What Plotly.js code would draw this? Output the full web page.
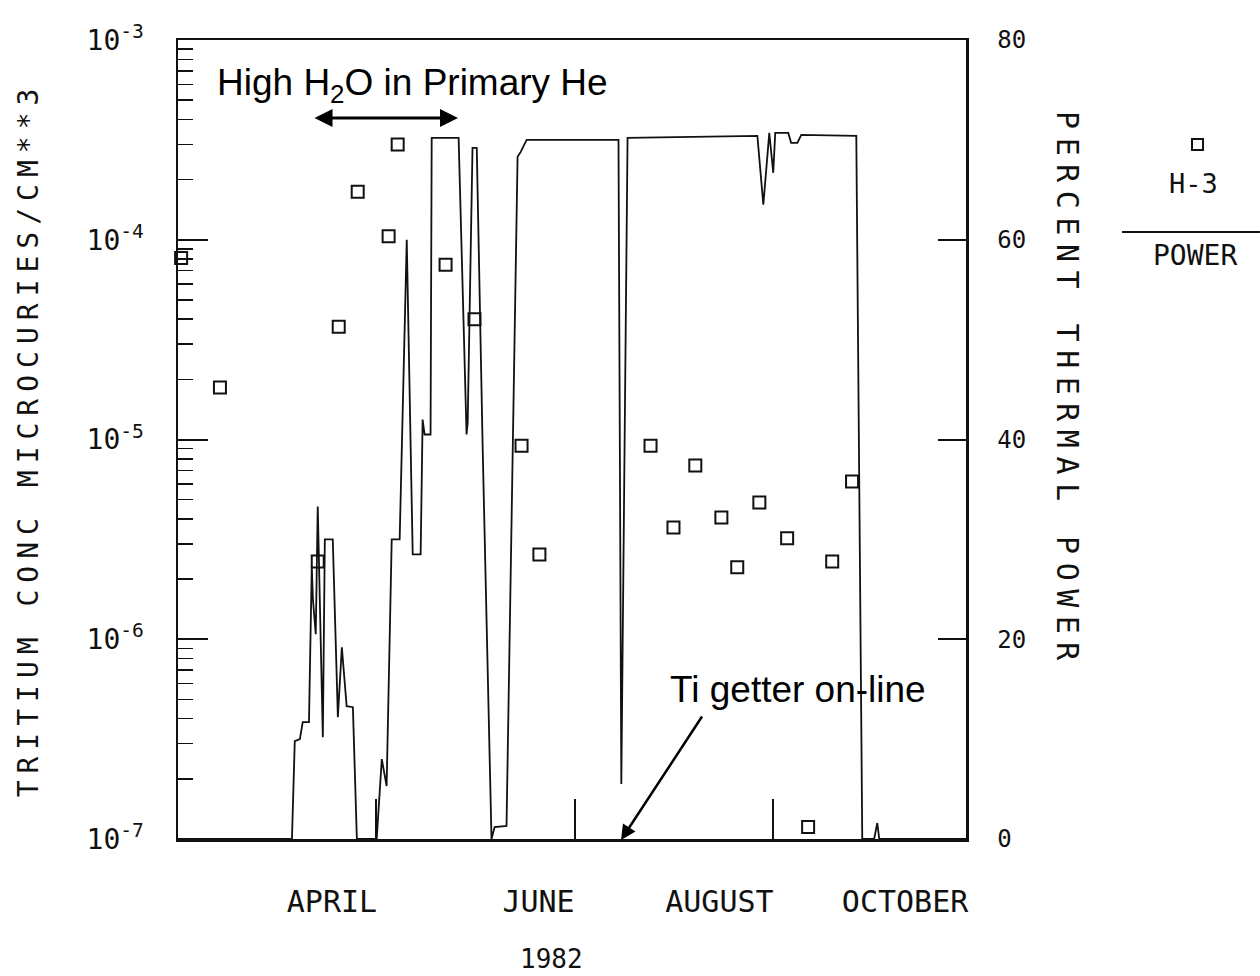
<!DOCTYPE html>
<html>
<head>
<meta charset="utf-8">
<script src="https://cdn.plot.ly/plotly-3.0.1.min.js"></script>
<style>
html,body{margin:0;padding:0;background:#fff;}
#chart{width:1260px;height:976px;}
.ytitle{letter-spacing:7px;}
text[data-unformatted^="PERCENT"]{letter-spacing:8.5px;}
</style>
</head>
<body>
<div id="chart"></div>
<script>
// Power history (day index from left edge of plot, percent thermal power)
const powerDays = [0, 40.2, 41.2, 43.0, 44.0, 46.2, 47.2, 47.6, 48.6, 49.3, 51.1, 51.8, 54.6, 56.4, 57.8, 59.5, 61.7, 63.1,
  70.1, 71.9, 73.6, 75.4, 78.2, 80.7, 82.8, 85.6, 86.3, 87.0, 89.1, 89.5, 99.0, 101.8, 102.2, 103.9, 105.4, 107.5,
  110.6, 111.7, 115.9, 119.8, 120.9, 123.0, 155.4, 156.4, 158.6, 204.4, 206.5, 208.6, 210.0, 210.7, 215.3, 216.3,
  218.5, 219.9, 239.3, 241.4, 245.6, 246.7, 247.4, 278];
const powerPct = [0, 0, 9.8, 10.0, 11.7, 11.7, 27.3, 24.0, 20.5, 33.3, 10.2, 30.0, 30.0, 12.2, 19.2, 13.3, 13.2, 0,
  0, 8.0, 5.3, 30.0, 30.0, 60.0, 28.5, 28.5, 42.0, 40.5, 40.5, 70.2, 70.2, 40.5, 41.7, 69.2, 69.2, 39.0,
  0, 1.2, 1.3, 68.3, 68.8, 70.0, 70.0, 5.5, 70.2, 70.4, 63.5, 70.7, 66.7, 70.7, 70.7, 69.7,
  69.7, 70.5, 70.4, 0, 0, 1.6, 0, 0];

// Tritium (H-3) concentration samples, microcuries/cm^3
const h3Days = [1.1, 14.8, 49.3, 56.7, 63.4, 74.3, 77.5, 94.4, 104.6, 121.2, 127.5, 166.7, 174.8, 182.5, 191.7,
  197.3, 205.1, 214.9, 222.3, 230.8, 237.8];
const h3Conc = [8.1e-5, 1.82e-5, 2.45e-6, 3.67e-5, 1.74e-4, 1.04e-4, 3.0e-4, 7.5e-5, 4.0e-5, 9.3e-6, 2.66e-6,
  9.3e-6, 3.63e-6, 7.4e-6, 4.07e-6, 2.29e-6, 4.84e-6, 3.2e-6, 1.15e-7, 2.45e-6, 6.17e-6];

const monthLabels = ['APRIL', 'JUNE', 'AUGUST', 'OCTOBER'];
const monthLabelDays = [54.3, 127.2, 191.0, 256.5];
const dayTicks = [70, 140, 210];
const concTickVals = [1e-7, 1e-6, 1e-5, 1e-4, 1e-3];
const concTickText = ['10<sup>-7</sup>', '10<sup>-6</sup>', '10<sup>-5</sup>', '10<sup>-4</sup>', '10<sup>-3</sup>'];
const powerTickVals = [0, 20, 40, 60, 80];

const INK = '#111';
const MONO = 'DejaVu Sans Mono, monospace';
const SANS = 'Liberation Sans, Arial, sans-serif';

const traces = [
  {
    x: powerDays, y: powerPct, xaxis: 'x', yaxis: 'y2', type: 'scatter', mode: 'lines',
    line: {color: INK, width: 1.8}, name: 'POWER', hoverinfo: 'x+y'
  },
  {
    x: h3Days, y: h3Conc, xaxis: 'x', yaxis: 'y', type: 'scatter', mode: 'markers',
    marker: {symbol: 'square-open', size: 12, color: INK, line: {color: INK, width: 2}},
    name: 'H-3', cliponaxis: false
  }
];

const layout = {
  width: 1260, height: 976,
  margin: {l: 178, r: 294, t: 40, b: 137},
  paper_bgcolor: '#fff', plot_bgcolor: '#fff',
  showlegend: false,
  xaxis: {
    range: [0, 278], showgrid: false, zeroline: false,
    showline: true, linecolor: INK, linewidth: 2.5, mirror: true,
    tickvals: monthLabelDays, ticktext: monthLabels, ticks: '',
    ticklabelstandoff: 34,
    tickfont: {family: MONO, size: 30, color: INK},
    minor: {tickvals: dayTicks, ticks: 'inside', ticklen: 40, tickwidth: 2, tickcolor: INK, showgrid: false}
  },
  yaxis: {
    type: 'log', range: [-7, -3], showgrid: false, zeroline: false,
    showline: true, linecolor: INK, linewidth: 2.5,
    tickvals: concTickVals, ticktext: concTickText,
    ticks: 'inside', ticklen: 30, tickwidth: 2, tickcolor: INK,
    ticklabelstandoff: 26,
    tickfont: {family: MONO, size: 28, color: INK},
    minor: {dtick: 'D1', ticks: 'inside', ticklen: 15, tickwidth: 1.5, tickcolor: INK, showgrid: false},
    title: {text: 'TRITIUM CONC MICROCURIES/CM**3', font: {family: MONO, size: 28, color: INK}, standoff: 40}
  },
  yaxis2: {
    overlaying: 'y', side: 'right', range: [0, 80], showgrid: false, zeroline: false,
    showline: true, linecolor: INK, linewidth: 2.5,
    tickvals: powerTickVals, ticks: 'inside', ticklen: 28, tickwidth: 2, tickcolor: INK,
    ticklabelstandoff: 24,
    tickfont: {family: MONO, size: 24, color: INK}
  },
  annotations: [
    {text: 'High H<sub>2</sub>O in Primary He', xref: 'paper', yref: 'paper', x: 0.297, y: 0.944,
     showarrow: false, font: {family: SANS, size: 37, color: '#000'}, xanchor: 'center', yanchor: 'middle'},
    {text: '', xref: 'paper', yref: 'paper', x: 0.3553, y: 0.9024, ax: -145, ay: 0,
     showarrow: true, arrowhead: 2, startarrowhead: 2, arrowside: 'end+start', arrowsize: 1.2, startarrowsize: 1.2,
     arrowwidth: 3, arrowcolor: '#000', standoff: 0, startstandoff: 0},
    {text: 'Ti getter on-line', xref: 'paper', yref: 'paper', x: 0.7868, y: 0.1865,
     showarrow: false, font: {family: SANS, size: 37, color: '#000'}, xanchor: 'center', yanchor: 'middle'},
    {text: '', xref: 'paper', yref: 'paper', x: 0.5622, y: -0.0013, ax: 82, ay: -125,
     showarrow: true, arrowhead: 2, arrowsize: 1.2, arrowwidth: 2.5, arrowcolor: '#000', standoff: 0},
    {text: '1982', xref: 'paper', yref: 'paper', x: 0.4734, y: -0.150,
     showarrow: false, font: {family: MONO, size: 26, color: INK}, xanchor: 'center', yanchor: 'middle'},
    {text: 'PERCENT THERMAL POWER', xref: 'paper', yref: 'paper', x: 1.128, y: 0.562, textangle: 90,
     showarrow: false, font: {family: MONO, size: 30, color: INK}, xanchor: 'center', yanchor: 'middle'},
    {text: 'H-3', xref: 'paper', yref: 'paper', x: 1.2881, y: 0.8198,
     showarrow: false, font: {family: MONO, size: 27, color: INK}, xanchor: 'center', yanchor: 'middle'},
    {text: 'POWER', xref: 'paper', yref: 'paper', x: 1.2906, y: 0.7297,
     showarrow: false, font: {family: MONO, size: 28, color: INK}, xanchor: 'center', yanchor: 'middle'}
  ],
  shapes: [
    {type: 'rect', xref: 'paper', yref: 'paper', x0: 1.2868, x1: 1.3008, y0: 0.8623, y1: 0.8761,
     line: {color: INK, width: 2}, fillcolor: 'rgba(0,0,0,0)'},
    {type: 'line', xref: 'paper', yref: 'paper', x0: 1.198, x1: 1.373, y0: 0.7597, y1: 0.7597,
     line: {color: INK, width: 2}}
  ]
};

Plotly.newPlot('chart', traces, layout, {displayModeBar: false, staticPlot: true});
</script>
</body>
</html>
